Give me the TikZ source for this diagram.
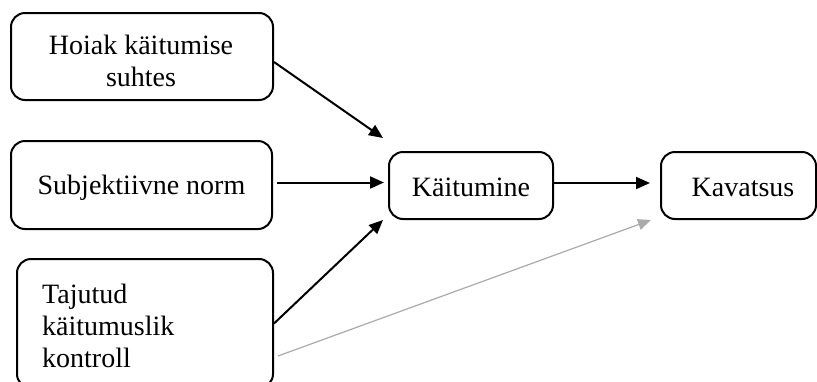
\documentclass[tikz,border=0pt]{standalone}
\usepackage{fontspec}
\setmainfont{Liberation Serif}
\usetikzlibrary{arrows.meta,calc}
\definecolor{lightarrow}{RGB}{170,170,170}
\begin{document}
\begin{tikzpicture}[x=1pt,y=-1pt,
  box/.style={draw, line width=2pt, rounded corners=14pt, inner sep=0pt},
  txt/.style={inner sep=0pt, font=\fontsize{28}{32}\selectfont},
  arr/.style={line width=2pt, -{Triangle[length=14pt,width=12pt]}},
  garr/.style={line width=1.2pt, lightarrow, -{Triangle[length=13pt,width=11pt]}}]
\clip (0,0) rectangle (817,381);
\node[box, minimum width=262pt, minimum height=87pt] (b1) at (142,56.5) {};
\node[box, minimum width=261pt, minimum height=88pt] (b2) at (141.5,185) {};
\node[box, minimum width=256pt, minimum height=129pt] (b3) at (145,323.5) {};
\node[box, minimum width=164pt, minimum height=67pt] (b4) at (471,185.5) {};
\node[box, minimum width=155pt, minimum height=67pt] (b5) at (738.5,185.5) {};
\node[txt, align=center, anchor=north] (t1) at (141,35.2) {Hoiak käitumise\\suhtes};
\node[txt, anchor=base] (t2) at (141.5,194) {Subjektiivne norm};
\node[txt, align=left, anchor=north west] (t3) at (42,284) {Tajutud\\käitumuslik\\kontroll};
\node[txt, anchor=base] (t4) at (471,196) {Käitumine};
\node[txt, anchor=base] (t5) at (743,196) {Kavatsus};
\draw[arr] ($(b1.east)+(0,5.5)$) -- ($(b4.north west)+(-5,-13)$);
\draw[arr] ($(b2.east)+(4,-2.5)$) -- ($(b4.west)+(-4,-3)$);
\draw[arr] (b3.east) -- ($(b4.south west)+(-5,0)$);
\draw[garr] ($(b3.east)+(4,32.5)$) -- ($(b5.south west)+(-9,0)$);
\draw[arr] ($(b4.east)+(0,-2.5)$) -- ($(b5.west)+(-10,-2.5)$);
\end{tikzpicture}
\end{document}
